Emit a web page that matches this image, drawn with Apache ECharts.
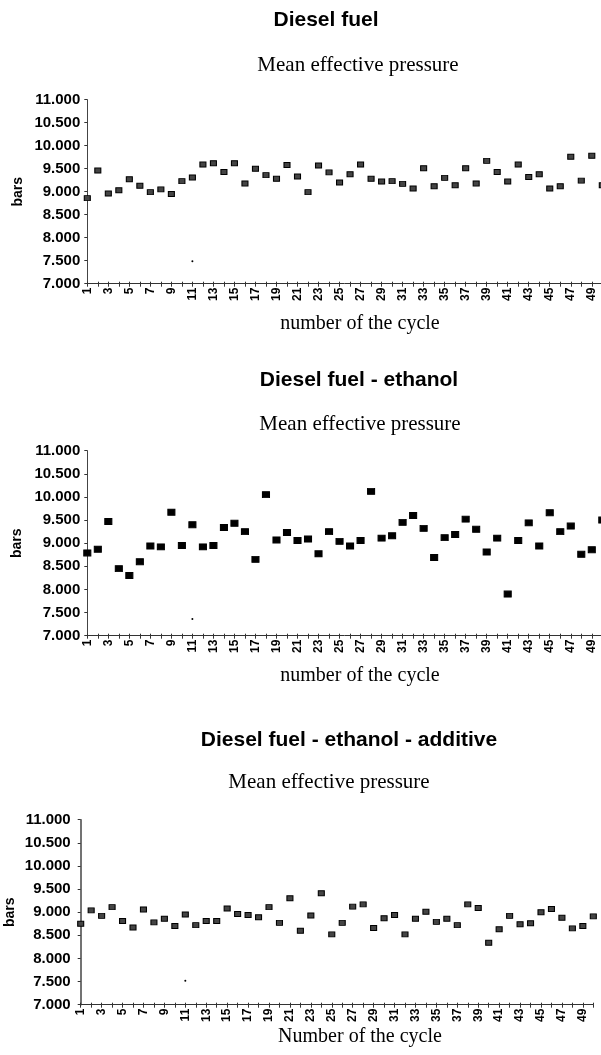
<!DOCTYPE html>
<html>
<head>
<meta charset="utf-8">
<script src="https://cdn.jsdelivr.net/npm/echarts@6/dist/echarts.min.js"></script>
<style>
html, body { margin: 0; padding: 0; background: #fff; }
#chart { width: 601px; height: 1055px; }
</style>
</head>
<body>
<div id="chart"></div>
<script>
// cycle numbers on the x axis
var cycles = ['1','2','3','4','5','6','7','8','9','10',
              '11','12','13','14','15','16','17','18','19','20',
              '21','22','23','24','25','26','27','28','29','30',
              '31','32','33','34','35','36','37','38','39','40',
              '41','42','43','44','45','46','47','48','49','50'];

// mean effective pressure (bars)
var dieselValues = [8.86, 9.46, 8.96, 9.03, 9.27, 9.13, 8.99, 9.05, 8.95, 9.23,
                    9.31, 9.59, 9.62, 9.43, 9.62, 9.18, 9.50, 9.36, 9.28, 9.58,
                    9.33, 8.99, 9.57, 9.42, 9.20, 9.38, 9.59, 9.28, 9.22, 9.23,
                    9.17, 9.07, 9.51, 9.12, 9.30, 9.14, 9.51, 9.18, 9.67, 9.43,
                    9.22, 9.59, 9.32, 9.38, 9.07, 9.12, 9.76, 9.24, 9.78, 9.14];

var ethanolValues = [8.79, 8.87, 9.47, 8.45, 8.30, 8.60, 8.94, 8.92, 9.67, 8.95,
                     9.40, 8.92, 8.95, 9.34, 9.43, 9.25, 8.65, 10.05, 9.07, 9.23,
                     9.06, 9.09, 8.77, 9.25, 9.04, 8.94, 9.06, 10.12, 9.11, 9.16,
                     9.45, 9.60, 9.32, 8.69, 9.12, 9.19, 9.52, 9.30, 8.81, 9.11,
                     7.90, 9.06, 9.44, 8.94, 9.66, 9.25, 9.37, 8.76, 8.86, 9.50];

var additiveValues = [8.75, 9.04, 8.92, 9.11, 8.81, 8.67, 9.06, 8.78, 8.86, 8.70,
                      8.95, 8.72, 8.81, 8.81, 9.08, 8.96, 8.94, 8.89, 9.11, 8.77,
                      9.30, 8.60, 8.93, 9.41, 8.52, 8.77, 9.12, 9.17, 8.66, 8.87,
                      8.94, 8.52, 8.86, 9.01, 8.79, 8.86, 8.72, 9.17, 9.09, 8.34,
                      8.63, 8.92, 8.74, 8.76, 9.00, 9.07, 8.88, 8.65, 8.70, 8.91];

// the stray dot that shows up near cycle 11 in each scan
var strayCycles = ['11', '11', '11'];
var strayValues = [7.49, 7.36, 7.52];

var yMin = 7, yMax = 11, yStep = 0.5;

var sans = '"Liberation Sans", Arial, sans-serif';
var serif = '"Liberation Serif", "Times New Roman", serif';

var panels = [
    { title: 'Diesel fuel', titleX: 326, titleY: 20, subX: 358, subY: 65,
      xName: 'number of the cycle', xNameX: 360, xNameY: 324,
      left: 87.3, top: 99.7, width: 515, height: 184, nameGap: 62, labelMargin: 7, axisWidth: 1,
      values: dieselValues, size: [6, 5], fill: '#444', border: '#000' },
    { title: 'Diesel fuel - ethanol', titleX: 359, titleY: 380, subX: 360, subY: 424,
      xName: 'number of the cycle', xNameX: 360, xNameY: 676,
      left: 87.3, top: 450.7, width: 515, height: 185, nameGap: 63, labelMargin: 7, axisWidth: 1,
      values: ethanolValues, size: [7, 6], fill: '#000', border: '#000' },
    { title: 'Diesel fuel - ethanol - additive', titleX: 349, titleY: 740, subX: 329, subY: 782,
      xName: 'Number of the cycle', xNameX: 360, xNameY: 1037,
      left: 80.7, top: 819.7, width: 512.6, height: 185, nameGap: 64, labelMargin: 10, axisWidth: 1.5,
      values: additiveValues, size: [6, 5], fill: '#444', border: '#000' }
];

function textTitle(text, x, y, font, weight, size) {
    return {
        text: text, left: x, top: y, padding: 0,
        textAlign: 'center', textVerticalAlign: 'middle',
        textStyle: { fontFamily: font, fontWeight: weight, fontSize: size, color: '#000' }
    };
}

var titles = [], grids = [], xAxes = [], yAxes = [], series = [];

panels.forEach(function (p, i) {
    titles.push(textTitle(p.title, p.titleX, p.titleY, sans, 'bold', 21));
    titles.push(textTitle('Mean effective pressure', p.subX, p.subY, serif, 'normal', 21));
    titles.push(textTitle(p.xName, p.xNameX, p.xNameY, serif, 'normal', 20));

    grids.push({ left: p.left, top: p.top, width: p.width, height: p.height,
                 outerBoundsMode: 'none', containLabel: false });

    // main category axis: ticks down, odd cycle labels rotated
    xAxes.push({
        type: 'category', gridIndex: i, data: cycles, boundaryGap: false,
        axisLine: { lineStyle: { color: '#333', width: 1 } },
        axisTick: { interval: 0, length: 3, lineStyle: { color: '#333' } },
        axisLabel: { interval: 1, rotate: 90, margin: 4, color: '#000',
                     fontFamily: sans, fontWeight: 'bold', fontSize: 12 },
        splitLine: { show: false }
    });
    // second copy only for the upward half of the crossing ticks
    xAxes.push({
        type: 'category', gridIndex: i, data: cycles, boundaryGap: false, position: 'bottom',
        axisLine: { show: false },
        axisTick: { interval: 0, inside: true, length: 2, lineStyle: { color: '#333' } },
        axisLabel: { show: false },
        splitLine: { show: false }
    });

    yAxes.push({
        type: 'value', gridIndex: i, min: yMin, max: yMax, interval: yStep,
        name: 'bars', nameLocation: 'middle', nameRotate: 90, nameGap: p.nameGap,
        nameMoveOverlap: false,
        nameTextStyle: { fontFamily: sans, fontWeight: 'bold', fontSize: 14, color: '#000' },
        axisLine: { show: true, lineStyle: { color: '#444', width: p.axisWidth } },
        axisTick: { show: true, length: 3, lineStyle: { color: '#333' } },
        axisLabel: { margin: p.labelMargin, color: '#000', fontFamily: sans, fontWeight: 'bold', fontSize: 15,
                     formatter: function (v) { return v.toFixed(3); } },
        splitLine: { show: false }
    });

    series.push({
        type: 'scatter', xAxisIndex: i * 2, yAxisIndex: i,
        data: p.values, symbol: 'rect', symbolSize: p.size,
        itemStyle: { color: p.fill, borderColor: p.border, borderWidth: 1, opacity: 1 }
    });
    series.push({
        type: 'scatter', xAxisIndex: i * 2, yAxisIndex: i,
        data: [[strayCycles[i], strayValues[i]]], symbol: 'circle', symbolSize: 2,
        itemStyle: { color: '#000', opacity: 1 }
    });
});

var chart = echarts.init(document.getElementById('chart'));
chart.setOption({
    animation: false,
    backgroundColor: '#fff',
    title: titles,
    grid: grids,
    xAxis: xAxes,
    yAxis: yAxes,
    series: series
});
</script>
</body>
</html>
